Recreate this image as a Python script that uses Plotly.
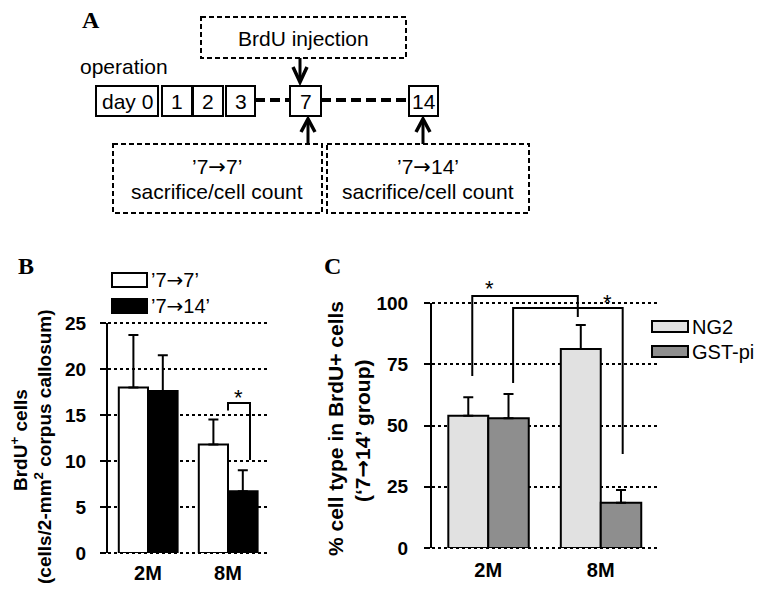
import plotly.graph_objects as go

W, H = 764, 604
SANS = "Liberation Sans, Arial, sans-serif"
SERIF = "Liberation Serif, Times New Roman, serif"
ARROW = '<span style="font-family:DejaVu Sans">→</span>'

# ---------------- data ----------------
ages = ["2M", "8M"]

# Panel B
b_names = ["’7→7’", "’7→14’"]
b_77 = [18.0, 11.8]
b_77_err = [5.7, 2.7]
b_714 = [17.6, 6.7]
b_714_err = [3.9, 2.3]
b_ticks = [0, 5, 10, 15, 20, 25]
B_MAX = 25

# Panel C
c_names = ["NG2", "GST-pi"]
c_ng2 = [54.0, 81.2]
c_ng2_err = [7.5, 9.8]
c_gst = [53.0, 18.5]
c_gst_err = [9.9, 5.2]
c_ticks = [0, 25, 50, 75, 100]
C_MAX = 100

# Panel A
day_labels = ["day 0", "1", "2", "3", "7", "14"]
group_labels = ["’7→7’", "’7→14’"]


def arrowfix(s):
    return s.replace("→", ARROW)


def px(x):
    return x / W


def py(y):
    return 1 - y / H


xpos = list(range(len(ages)))

fig = go.Figure()

# ---------------- Panel B bars ----------------
fig.add_trace(go.Bar(
    x=xpos, y=b_77, name=b_names[0], width=0.365, offset=-0.365,
    marker=dict(color="white", line=dict(color="black", width=2)),
    error_y=dict(type="data", symmetric=False, array=b_77_err, arrayminus=[0, 0],
                 color="black", thickness=2, width=5),
    xaxis="x", yaxis="y", showlegend=False))
fig.add_trace(go.Bar(
    x=xpos, y=b_714, name=b_names[1], width=0.37, offset=0,
    marker=dict(color="black", line=dict(color="black", width=2)),
    error_y=dict(type="data", symmetric=False, array=b_714_err, arrayminus=[0, 0],
                 color="black", thickness=2, width=5),
    xaxis="x", yaxis="y", showlegend=False))

# ---------------- Panel C bars ----------------
fig.add_trace(go.Bar(
    x=xpos, y=c_ng2, name=c_names[0], width=0.355, offset=-0.355,
    marker=dict(color="#e1e1e1", line=dict(color="black", width=2)),
    error_y=dict(type="data", symmetric=False, array=c_ng2_err, arrayminus=[0, 0],
                 color="black", thickness=2, width=5),
    xaxis="x2", yaxis="y2", showlegend=False))
fig.add_trace(go.Bar(
    x=xpos, y=c_gst, name=c_names[1], width=0.36, offset=0,
    marker=dict(color="#8e8e8e", line=dict(color="black", width=2)),
    error_y=dict(type="data", symmetric=False, array=c_gst_err, arrayminus=[0, 0],
                 color="black", thickness=2, width=5),
    xaxis="x2", yaxis="y2", showlegend=False))

tick_font_y = dict(family=SANS, size=19, color="black", weight="bold")
tick_font_x = dict(family=SANS, size=20, color="black", weight="bold")

xcommon = dict(range=[-0.5, 1.5], tickvals=xpos, ticktext=ages, showline=False,
               ticks="", showgrid=False, zeroline=False, tickfont=tick_font_x,
               fixedrange=True, automargin=False)
ycommon = dict(showline=True, linewidth=2, linecolor="black", ticks="outside",
               ticklen=6, tickwidth=2, tickcolor="black", showgrid=True,
               griddash="dot", gridcolor="black", gridwidth=2, zeroline=False,
               tickfont=tick_font_y, fixedrange=True, automargin=False)

fig.update_layout(
    width=W, height=H,
    margin=dict(l=0, r=0, t=0, b=0, pad=0, autoexpand=False),
    paper_bgcolor="white", plot_bgcolor="rgba(0,0,0,0)",
    barmode="overlay",
    showlegend=False,
    xaxis=dict(domain=[px(108), px(268)], anchor="y", ticklabelstandoff=6, **xcommon),
    yaxis=dict(domain=[py(553), py(323)], anchor="x", range=[0, B_MAX],
               tickvals=b_ticks, ticklabelstandoff=10, **ycommon),
    xaxis2=dict(domain=[px(432), px(657)], anchor="y2", ticklabelstandoff=8, **xcommon),
    yaxis2=dict(domain=[py(548), py(303)], anchor="x2", range=[0, C_MAX],
                tickvals=c_ticks, ticklabelstandoff=12, **ycommon),
)

shapes = []
annos = []


def text(x, y, s, size=21, bold=False, family=SANS, xanchor="center", angle=0):
    f = dict(family=family, size=size, color="black")
    if bold:
        f["weight"] = "bold"
    annos.append(dict(x=px(x), y=py(y), xref="paper", yref="paper", text=arrowfix(s),
                      showarrow=False, xanchor=xanchor, yanchor="middle",
                      font=f, textangle=angle))


def rect(x0, y0, x1, y1, dash="solid", width=2, fill="rgba(0,0,0,0)"):
    shapes.append(dict(type="rect", xref="paper", yref="paper",
                       x0=px(x0), x1=px(x1), y0=py(y0), y1=py(y1),
                       line=dict(color="black", width=width, dash=dash),
                       fillcolor=fill, layer="above"))


def line(x0, y0, x1, y1, width=2, dash="solid"):
    shapes.append(dict(type="line", xref="paper", yref="paper",
                       x0=px(x0), x1=px(x1), y0=py(y0), y1=py(y1),
                       line=dict(color="black", width=width, dash=dash)))


def poly(pts, width=3.5):
    d = "M " + " L ".join(f"{px(a)},{py(b)}" for a, b in pts)
    shapes.append(dict(type="path", xref="paper", yref="paper", path=d,
                       line=dict(color="black", width=width)))


# dotted grid lines at the ends of each value axis (plotly skips them)
for xa, ya in [("x", "y"), ("x2", "y2")]:
    for v in (0, 1):
        shapes.append(dict(type="line", xref=f"{xa} domain", yref=f"{ya} domain",
                           x0=0, x1=1, y0=v, y1=v, layer="below",
                           line=dict(color="black", width=2, dash="dot")))

# ---------------- Panel A (schematic) ----------------
text(91, 20, "A", size=24, bold=True, family=SERIF)
text(124, 67, "operation")
day_boxes = [(96, 158), (162, 192), (193, 223), (226, 255), (290, 321), (409, 438)]
for (x0, x1), lab in zip(day_boxes, day_labels):
    rect(x0, 86, x1, 116)
    text((x0 + x1) / 2, 101, lab)
line(255, 100, 290, 100, width=4, dash="10px,5px")
line(321, 100, 409, 100, width=4, dash="10px,5px")

rect(201, 17, 406, 58, dash="5px,3px")
text(303, 39, "BrdU injection")
line(300, 58, 300, 82, width=3)
poly([(293, 67), (300, 82), (307, 67)])

for (x0, x1), cx, ax, lab in [((113, 322), 217.5, 308, group_labels[0]),
                              ((327, 529), 428, 423, group_labels[1])]:
    rect(x0, 144, x1, 213, dash="5px,3px")
    text(cx, 167, lab)
    text(cx, 191, "sacrifice/cell count")
    line(ax, 144, ax, 119, width=3)
    poly([(ax - 7, 132), (ax, 119), (ax + 7, 132)])

# ---------------- Panel B extras ----------------
text(26, 266, "B", size=24, bold=True, family=SERIF)
rect(112, 273, 147, 287, fill="white")
text(149, 280, b_names[0], size=20, xanchor="left")
rect(112, 299, 147, 313, fill="black")
text(149, 306, b_names[1], size=20, xanchor="left")
text(19, 440, "BrdU<sup>+</sup> cells", size=19, bold=True, angle=-90)
text(43, 447, "(cells/2-mm<sup>2</sup> corpus callosum)", size=19, bold=True, angle=-90)

# significance bracket (B)
shapes.append(dict(type="path", xref="x", yref="y",
                   path="M 1.0,15.5 L 1.0,16.3 L 1.275,16.3 L 1.275,10.1",
                   line=dict(color="black", width=2)))
annos.append(dict(x=1.125, y=16.85, xref="x", yref="y", text="*", showarrow=False,
                  yanchor="middle", font=dict(family=SANS, size=22, color="black")))

# ---------------- Panel C extras ----------------
text(332, 266, "C", size=24, bold=True, family=SERIF)
rect(652, 321, 688, 332, fill="#e1e1e1")
text(690, 327, c_names[0], size=20, xanchor="left")
rect(652, 346, 688, 357, fill="#8e8e8e")
text(690, 352, c_names[1], size=20, xanchor="left")
text(335, 429, "% cell type in BrdU+ cells", size=21, bold=True, angle=-90)
text(363, 431, "(‘7→14’ group)", size=21, bold=True, angle=-90)


def cy(v):
    return v / C_MAX


for x0, x1, yl, ytop, yr, sx, sy in [(-0.142, 0.796, 70.2, 102.9, 94.3, 0.009, 106.1),
                                      (0.221, 1.195, 67.3, 98.0, 38.4, 1.062, 100.4)]:
    shapes.append(dict(type="path", xref="x2", yref="y2 domain",
                       path=f"M {x0},{cy(yl)} L {x0},{cy(ytop)} L {x1},{cy(ytop)} L {x1},{cy(yr)}",
                       line=dict(color="black", width=2)))
    annos.append(dict(x=sx, y=cy(sy), xref="x2", yref="y2 domain", text="*",
                      showarrow=False, yanchor="middle",
                      font=dict(family=SANS, size=22, color="black")))

fig.update_layout(shapes=shapes, annotations=annos)
fig.write_html("out.html", config={"displayModeBar": False},
               post_script="document.body.style.margin='0px';document.body.style.padding='0px';")
